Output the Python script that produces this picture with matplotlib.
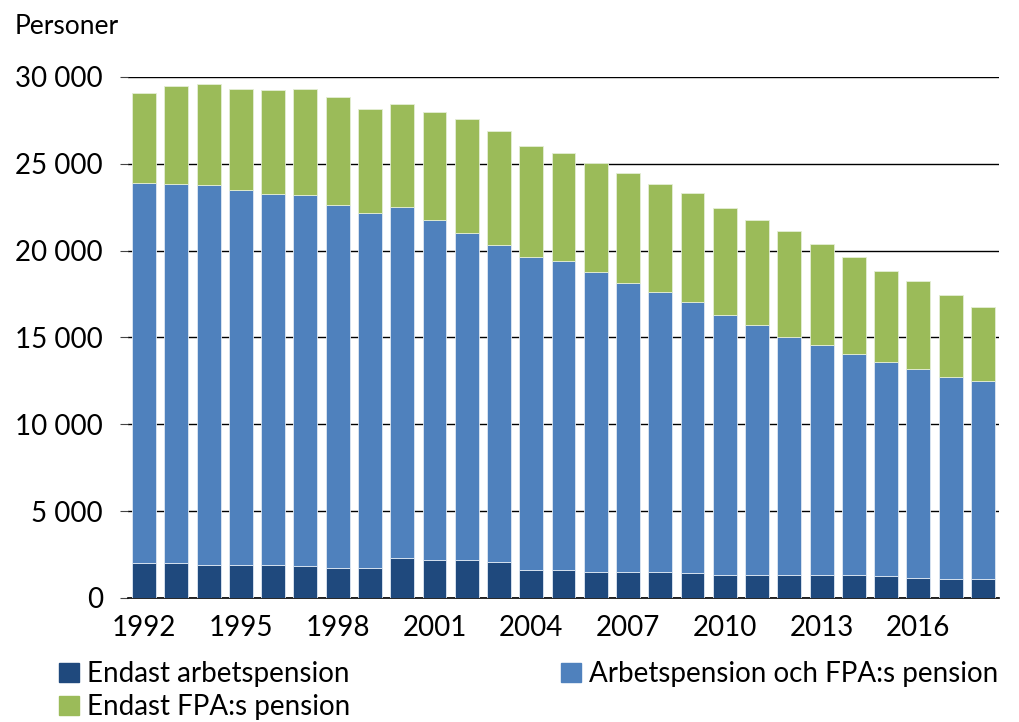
import matplotlib.pyplot as plt
from matplotlib.ticker import FuncFormatter, MultipleLocator
from matplotlib.patches import Patch
import numpy as np

plt.rcParams['font.family'] = ['Lato', 'DejaVu Sans']

years = list(range(1992, 2019))

# Persons
endast_arbets = [2000, 2000, 1920, 1920, 1920, 1840, 1750, 1750, 2320, 2170,
                 2170, 2070, 1590, 1590, 1500, 1500, 1500, 1420, 1340, 1340,
                 1340, 1340, 1340, 1250, 1170, 1090, 1090]
# top of the blue segment (cumulative)
arbets_och_fpa_top = [23910, 23830, 23760, 23510, 23260, 23180, 22610, 22180, 22530, 21780,
                      21030, 20300, 19650, 19400, 18750, 18150, 17600, 17020, 16270, 15700,
                      15040, 14550, 14070, 13570, 13170, 12740, 12490]
totals = [29100, 29490, 29570, 29320, 29250, 29320, 28830, 28170, 28420, 28000,
          27600, 26870, 26040, 25640, 25060, 24490, 23810, 23320, 22430, 21780,
          21110, 20380, 19650, 18830, 18250, 17430, 16770]

arbets_och_fpa = [t - d for t, d in zip(arbets_och_fpa_top, endast_arbets)]
endast_fpa = [t - b for t, b in zip(totals, arbets_och_fpa_top)]

c_dark = '#1F497D'
c_blue = '#4F81BD'
c_green = '#9BBB59'

fig = plt.figure(figsize=(10.19, 7.22), dpi=100)
ax = fig.add_axes([128 / 1019, 1 - 598 / 722, 871 / 1019, (598 - 77) / 722])

x = np.arange(len(years))
w = 0.74
ax.bar(x, endast_arbets, w, color=c_dark, edgecolor='#dfe8f3', linewidth=0.6, zorder=3)
ax.bar(x, arbets_och_fpa, w, bottom=endast_arbets, color=c_blue,
       edgecolor='#dfe8f3', linewidth=0.6, zorder=3)
ax.bar(x, endast_fpa, w, bottom=arbets_och_fpa_top, color=c_green,
       edgecolor='#e4eed6', linewidth=0.6, zorder=3)

ax.set_xlim(-0.5, 26.5)
ax.set_ylim(0, 30000)
ax.yaxis.set_major_locator(MultipleLocator(5000))
ax.yaxis.set_major_formatter(FuncFormatter(lambda v, p: f"{int(v):,}".replace(',', ' ')))
ax.grid(axis='y', color='black', linewidth=1.0, zorder=0)

ticks = x[::3]
ax.set_xticks(ticks)
ax.set_xticklabels([str(years[i]) for i in ticks])

for s in ['top', 'right', 'left']:
    ax.spines[s].set_visible(False)
ax.spines['bottom'].set_linewidth(1.2)
ax.tick_params(axis='x', length=0, labelsize=20, pad=12)
ax.tick_params(axis='y', length=6, width=0.8, labelsize=20, pad=12, color='#444444')

fig.text(15 / 1019, 1 - 27 / 722, 'Personer', fontsize=19, va='center', ha='left')

handles = [Patch(color=c_dark), Patch(color=c_green), Patch(color=c_blue)]
labels = ['Endast arbetspension', 'Endast FPA:s pension', 'Arbetspension och FPA:s pension']
fig.legend(handles, labels, ncol=2, loc='upper left',
           bbox_to_anchor=(48 / 1019, 1 - 650 / 722), frameon=False, fontsize=20,
           handlelength=0.7, handleheight=0.7, handletextpad=0.3,
           columnspacing=7.6, labelspacing=0.25, borderaxespad=0)

plt.savefig('out.png', dpi=100)
